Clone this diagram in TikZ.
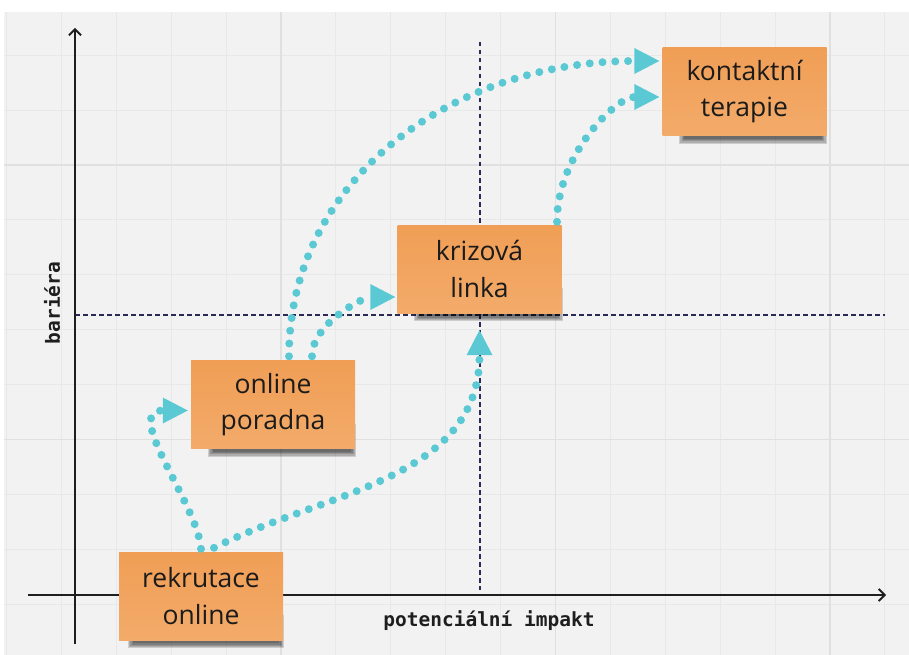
\documentclass[tikz,border=0pt]{standalone}
\usepackage{fontspec}
\setmainfont{Open Sans}
\newfontfamily\axisfont{DejaVu Sans Mono}
\usetikzlibrary{arrows.meta,calc}

\definecolor{boardbg}{HTML}{F2F2F2}
\definecolor{gridminor}{HTML}{E8E8E8}
\definecolor{gridmajor}{HTML}{E0E0E0}
\definecolor{axisblack}{HTML}{1E1E1E}
\definecolor{guide}{HTML}{2A2A58}
\definecolor{noteA}{HTML}{F09E55}
\definecolor{noteB}{HTML}{F3AB6A}
\definecolor{flowcyan}{HTML}{5BC9D3}
\definecolor{inktext}{HTML}{1B1B1B}

\pgfdeclarelayer{bg}
\pgfsetlayers{bg,main}

\tikzset{
  note/.style={rectangle, minimum width=164pt, minimum height=88pt, inner sep=0pt,
    top color=noteA, bottom color=noteB, draw=none, align=center,
    text=inktext, font=\fontsize{26.5}{36.5}\selectfont},
  flow/.style={draw=flowcyan, line width=8pt, line cap=round,
    dash pattern=on 0pt off 12.8pt,
    -{Triangle[length=25pt,width=26pt,line width=0pt]}},
  axisline/.style={draw=axisblack, line width=1.8pt,
    -{Straight Barb[length=6pt,width=12pt,line width=1.8pt]}},
  guideline/.style={draw=guide, line width=1.3pt, dash pattern=on 4.5pt off 3.5pt},
  axislabel/.style={text=axisblack, font=\axisfont\bfseries\fontsize{19.5}{22}\selectfont, inner sep=0pt},
  minorgrid/.style={draw=gridminor, line width=0.9pt},
  majorgrid/.style={draw=gridmajor, line width=1.1pt},
}

\begin{document}
\begin{tikzpicture}[x=1pt,y=-1pt]
\useasboundingbox (0,0) rectangle (909,655);

\begin{pgfonlayer}{bg}
  % board and grid
  \fill[white] (0,0) rectangle (909,655);
  \fill[boardbg] (4,12) rectangle (909,655);
  \foreach \k in {0,...,16} {
    \pgfmathsetmacro\gx{6.5+54.9*\k}
    \draw[minorgrid] (\gx,12) -- (\gx,655);
  }
  \foreach \j in {-2,...,8} {
    \pgfmathsetmacro\gy{165+54.9*\j}
    \draw[minorgrid] (4,\gy) -- (909,\gy);
  }
  \foreach \gx in {281,555.5,830}
    \draw[majorgrid] (\gx,12) -- (\gx,655);
  \foreach \gy in {165,439.5}
    \draw[majorgrid] (4,\gy) -- (909,\gy);

  % quadrant guides
  \coordinate (hguideL) at (75,315);
  \coordinate (hguideR) at (885,315);
  \coordinate (vguideT) at (480,42);
  \coordinate (vguideB) at (480,590);
  \draw[guideline] (hguideL) -- (hguideR);
  \draw[guideline] (vguideT) -- (vguideB);

  % axes
  \coordinate (xaxisL) at (28,595);
  \coordinate (xaxisR) at (886,595);
  \coordinate (yaxisB) at (75,644);
  \coordinate (yaxisT) at (75,28);
  \draw[axisline] (xaxisL) -- (xaxisR);
  \draw[axisline] (yaxisB) -- (yaxisT);
\end{pgfonlayer}

% axis labels
\node[axislabel] (xlab) at (489,621) {potenciální impakt};
\node[axislabel, rotate=90] (ylab) at (52,303) {bariéra};

% sticky notes
\node[note] (rek)  at (201,596)   {rekrutace\\online};
\node[note] (por)  at (273,404.5) {online\\poradna};
\node[note] (kriz) at (479.5,269) {krizová\\linka};
\node[note] (kon)  at (744.5,91.5) {kontaktní\\terapie};

% soft shadows under the notes
\begin{pgfonlayer}{bg}
  \foreach \b/\shl/\shr in {rek/14/4, por/22/4, kriz/22/4, kon/22/5} {
    \foreach \i in {0,...,4} {
      \fill[black, opacity=0.15]
        ($(\b.south west)+(\shl-\i*1.3,-20-\i*1.3)$) rectangle
        ($(\b.south east)+(-\shr+\i*1.3,3+\i*1.3)$);
    }
  }
\end{pgfonlayer}

% flows between the notes
\draw[flow] ($(rek.north)+(0,-3)$) .. controls +(-3,-44) and +(-66,0) .. ($(por.west)+(-3,6)$);
\draw[flow] ($(rek.north)+(13,-4)$) .. controls +(110,-56) and +(0,150) .. ($(kriz.south)+(0,17)$);
\draw[flow] ($(por.north)+(16,-4)$) .. controls +(0,-178) and +(-205,0) .. ($(kon.west)+(-3,-30.5)$);
\draw[flow] ($(por.north)+(39,-4)$) .. controls +(0,-33) and +(-31,0) .. ($(kriz.west)+(-2,28)$);
\draw[flow] ($(kriz.north)+(77.5,-3)$) .. controls +(0,-68) and +(-42.5,0) .. ($(kon.west)+(-3,5.5)$);
\end{tikzpicture}
\end{document}
